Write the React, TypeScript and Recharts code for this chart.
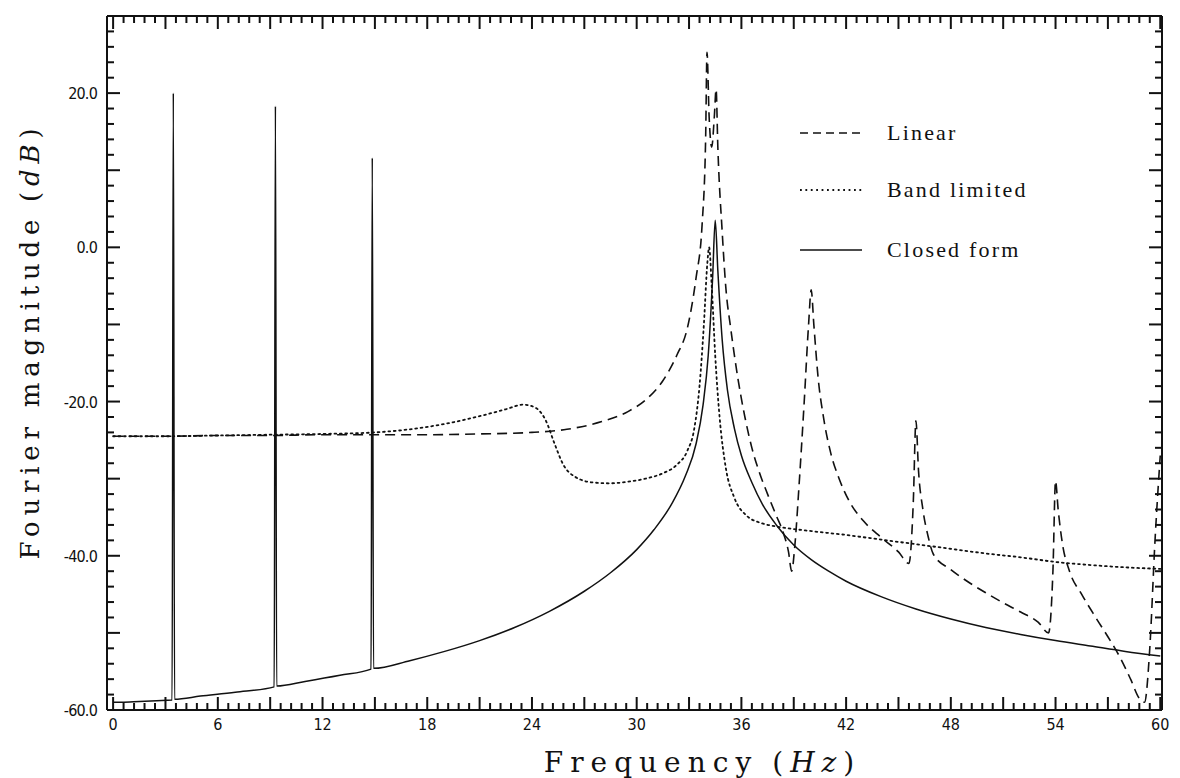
import React from 'react';
import { LineChart, Line, XAxis, YAxis, Label, ReferenceLine } from 'recharts';

// ---------- data ----------
const closedFreq = [0, 0.5, 1.5, 2.5, 3.38, 3.45, 3.52, 5, 7, 9.23, 9.3, 9.37, 11, 13, 14.78, 14.85, 14.92, 17, 19, 21, 23, 25, 27, 28.5, 30, 31, 32, 32.8, 33.4, 33.8, 34.1, 34.35, 34.5, 34.65, 34.9, 35.2, 35.6, 36, 36.6, 37.2, 38, 39, 40, 41, 42, 44, 46, 48, 50, 52, 54, 56, 58, 60];
const closedDb = [-59.0, -59.0, -58.9, -58.8, -58.7, 20.0, -58.6, -58.2, -57.7, -57.0, 18.3, -56.9, -56.3, -55.5, -54.7, 11.6, -54.6, -53.6, -52.4, -51.0, -49.3, -47.2, -44.6, -42.2, -39.2, -36.6, -33.3, -29.6, -25.5, -20.5, -14.0, -4.0, 3.5, -3.0, -12.0, -18.5, -23.5, -27.0, -30.5, -33.3, -36.0, -38.6, -40.5, -42.0, -43.3, -45.3, -46.9, -48.2, -49.3, -50.2, -51.0, -51.7, -52.4, -53.0];

const linearFreq = [0, 3, 6, 9, 12, 15, 18, 21, 24, 26, 28, 29.5, 30.5, 31.5, 32.3, 32.9, 33.4, 33.75, 33.95, 34.03, 34.15, 34.3, 34.45, 34.55, 34.65, 34.9, 35.1, 35.4, 35.8, 36.2, 36.6, 37, 37.5, 38, 38.4, 38.7, 38.88, 39.05, 39.3, 39.6, 39.85, 40.0, 40.15, 40.4, 40.7, 41.1, 41.6, 42.2, 43, 44, 45, 45.6, 45.85, 46.0, 46.15, 46.4, 46.7, 47, 48, 49, 50, 51, 52, 53, 53.6, 53.85, 54.0, 54.15, 54.4, 54.8, 55.5, 56.3, 57, 57.7, 58.3, 58.8, 59.1, 59.4, 59.7, 60];
const linearDb = [-24.5, -24.5, -24.4, -24.4, -24.3, -24.3, -24.3, -24.2, -24.0, -23.6, -22.6, -21.3, -19.8, -17.3, -14.0, -10.5, -4.0, 3.0, 14.0, 25.3, 17.0, 13.0, 17.0, 20.5, 13.0, 2.0, -5.0, -10.7, -17.0, -22.0, -26.0, -29.0, -32.0, -34.8, -37.0, -39.5, -42.0, -39.0, -31.0, -20.0, -10.0, -5.5, -10.0, -17.0, -22.0, -26.5, -30.0, -33.0, -35.5, -37.6, -39.5, -41.0, -33.0, -22.5, -29.0, -34.0, -37.5, -39.8, -41.8, -43.4, -44.8, -46.1, -47.3, -48.6, -50.0, -42.0, -30.3, -34.0, -38.5, -42.0, -45.0, -48.0, -50.5, -53.2, -56.0, -58.5, -59.0, -52.0, -38.0, -27.0];

const bandFreq = [0, 3, 6, 9, 12, 15, 17, 19, 21, 22.5, 23.5, 24.2, 24.8, 25.3, 25.8, 26.5, 27.5, 28.5, 29.5, 30.5, 31.5, 32.3, 32.9, 33.3, 33.6, 33.85, 34.05, 34.15, 34.3, 34.5, 34.75, 35.1, 35.6, 36.3, 37.2, 38, 40, 42, 44, 46, 48, 50, 52, 54, 56, 58, 60];
const bandDb = [-24.5, -24.5, -24.4, -24.3, -24.2, -24.0, -23.6, -22.9, -21.9, -21.0, -20.4, -20.8, -22.5, -25.5, -28.2, -29.8, -30.5, -30.6, -30.4, -30.0, -29.3, -28.2, -26.4, -23.5, -18.0, -10.0, -2.0, 0.0, -5.0, -14.0, -22.0, -28.5, -32.5, -34.8, -35.8, -36.2, -36.8, -37.3, -37.9, -38.5, -39.1, -39.7, -40.2, -40.8, -41.2, -41.5, -41.7];

const seriesNames = ['Linear', 'Band limited', 'Closed form'];
const xTickLabels = [0, 6, 12, 18, 24, 30, 36, 42, 48, 54, 60];
const yTickLabels = [20, 0, -20, -40, -60];
const xTitle = 'Frequency';
const xUnit = 'Hz';
const yTitle = 'Fourier magnitude';
const yUnit = 'dB';

// ---------- helpers ----------
const rows = (f: number[], d: number[]) => f.map((x, i) => ({ f: x, db: d[i] }));
const closedRows = rows(closedFreq, closedDb);
const linearRows = rows(linearFreq, linearDb);
const bandRows = rows(bandFreq, bandDb);

const INK = '#111';
const X_DOMAIN: [number, number] = [-0.35, 60.1];
const Y_DOMAIN: [number, number] = [-60, 30];
const tickFont = "'DejaVu Sans Condensed', 'Liberation Sans Narrow', 'Liberation Sans', sans-serif";
const titleFont = "'DejaVu Serif', serif";

// minor tick grid (every 0.6 Hz / 2 dB), majors every 3 Hz / 10 dB
const xMinor: number[] = [];
for (let i = 0; i <= 100; i++) xMinor.push(Math.round(i * 6) / 10);
const yMinor: number[] = [];
for (let v = -60; v <= 30; v += 2) yMinor.push(v);

// tick lengths expressed in data units of the plot (13 px major, 7 px minor)
const PX_PER_DB = 694 / 90;
const PX_PER_HZ = 1055 / 60.45;
const xMarks = xMinor.map((v, i) => ({ v, len: (i % 5 === 0 ? 13 : 7) / PX_PER_DB }));
const yMarks = yMinor.map((v) => ({ v, len: (v % 10 === 0 ? 13 : 7) / PX_PER_HZ }));

const BottomLabel = (p: any) => (
  <text x={Number(p.x)} y={Number(p.y) + 20} textAnchor="middle" fontFamily={tickFont} fontSize={16} fill={INK}>
    {p.payload.value}
  </text>
);
const LeftLabel = (p: any) => (
  <text x={Number(p.x) - 10} y={Number(p.y) + 6} textAnchor="end" fontFamily={tickFont} fontSize={16} fill={INK} letterSpacing={-0.8}>
    {Number(p.payload.value).toFixed(1)}
  </text>
);

const XTitle = (p: any) => {
  const vb = p.viewBox || { x: 0, y: 0, width: 0, height: 0 };
  const cx = vb.x + vb.width / 2 + 68;
  return (
    <text x={cx} y={vb.y + 62} textAnchor="middle" fontFamily={titleFont} fontSize={28} fill={INK} letterSpacing={7}>
      {xTitle}
      <tspan dx={14}>(</tspan>
      <tspan fontStyle="italic">{xUnit}</tspan>
      <tspan>)</tspan>
    </text>
  );
};
const YTitle = () => {
  const cx = 22;
  const cy = 333;
  return (
    <text x={cx} y={cy} transform={`rotate(-90 ${cx} ${cy})`} textAnchor="middle" dominantBaseline="central" fontFamily={titleFont} fontSize={26} fill={INK} letterSpacing={5.8}>
      {yTitle}
      <tspan dx={12}>(</tspan>
      <tspan fontStyle="italic">{yUnit}</tspan>
      <tspan>)</tspan>
    </text>
  );
};

const styles = [
  { dash: '10 6', width: 1.6 },
  { dash: '1.8 3.6', width: 1.8 },
  { dash: undefined as string | undefined, width: 1.5 },
];

const LegendBox = () => (
  <div style={{ position: 'absolute', left: 790, top: 111, width: 320 }}>
    {seriesNames.map((name, i) => (
      <div key={name} style={{ height: i === 1 ? 60 : 57, display: 'flex', alignItems: 'flex-start' }}>
        <svg width={66} height={28} style={{ display: 'block' }}>
          <line x1={2} y1={14} x2={64} y2={14} stroke={INK} strokeWidth={styles[i].width} strokeDasharray={i === 0 ? '8 5' : styles[i].dash} />
        </svg>
        <span style={{ marginLeft: 23, fontFamily: "'Liberation Serif', serif", fontSize: 22, letterSpacing: 2.2, lineHeight: '28px', color: INK }}>
          {name}
        </span>
      </div>
    ))}
  </div>
);

export default function App() {
  const [xLo, xHi] = X_DOMAIN;
  const [yLo, yHi] = Y_DOMAIN;
  const tickProps = { xAxisId: 'b', yAxisId: 'l', stroke: INK, strokeWidth: 2, ifOverflow: 'visible' as const };
  const frame = { stroke: INK, strokeWidth: 2 };
  return (
    <div style={{ position: 'relative', width: 1172, height: 770, background: '#fff' }}>
      <LineChart width={1172} height={770} margin={{ top: 0, right: 0, bottom: 0, left: 0 }}>
        <XAxis xAxisId="b" dataKey="f" type="number" domain={X_DOMAIN} allowDataOverflow ticks={xTickLabels} interval={0}
          tickSize={0} tickMargin={0} tickLine={false} tick={<BottomLabel />} height={68} stroke={INK} axisLine={frame}>
          <Label content={<XTitle />} />
        </XAxis>
        <XAxis xAxisId="t" orientation="top" dataKey="f" type="number" domain={X_DOMAIN} allowDataOverflow ticks={xTickLabels} interval={0}
          tick={false} tickLine={false} height={8} stroke={INK} axisLine={frame} />
        <YAxis yAxisId="l" type="number" domain={Y_DOMAIN} allowDataOverflow ticks={yTickLabels} interval={0}
          tickSize={0} tickMargin={0} tickLine={false} tick={<LeftLabel />} width={99} stroke={INK} axisLine={frame}>
          <Label content={<YTitle />} />
        </YAxis>
        <YAxis yAxisId="r" orientation="right" type="number" domain={Y_DOMAIN} allowDataOverflow ticks={yTickLabels} interval={0}
          tick={false} tickLine={false} width={18} stroke={INK} axisLine={frame} />

        {/* inward tick marks on all four sides of the frame */}
        {xMarks.map((m) => (
          <ReferenceLine key={`bt${m.v}`} {...tickProps} segment={[{ x: m.v, y: yLo }, { x: m.v, y: yLo + m.len }]} />
        ))}
        {xMarks.map((m) => (
          <ReferenceLine key={`tt${m.v}`} {...tickProps} segment={[{ x: m.v, y: yHi }, { x: m.v, y: yHi - m.len }]} />
        ))}
        {yMarks.map((m) => (
          <ReferenceLine key={`lt${m.v}`} {...tickProps} segment={[{ x: xLo, y: m.v }, { x: xLo + m.len, y: m.v }]} />
        ))}
        {yMarks.map((m) => (
          <ReferenceLine key={`rt${m.v}`} {...tickProps} segment={[{ x: xHi, y: m.v }, { x: xHi - m.len, y: m.v }]} />
        ))}

        <Line data={bandRows} xAxisId="b" yAxisId="l" dataKey="db" name={seriesNames[1]} type="monotone" stroke={INK} strokeWidth={styles[1].width} strokeDasharray={styles[1].dash} strokeLinecap="round" dot={false} activeDot={false} isAnimationActive={false} />
        <Line data={linearRows} xAxisId="b" yAxisId="l" dataKey="db" name={seriesNames[0]} type="monotone" stroke={INK} strokeWidth={styles[0].width} strokeDasharray={styles[0].dash} dot={false} activeDot={false} isAnimationActive={false} />
        <Line data={closedRows} xAxisId="b" yAxisId="l" dataKey="db" name={seriesNames[2]} type="monotone" stroke={INK} strokeWidth={styles[2].width} dot={false} activeDot={false} isAnimationActive={false} />
      </LineChart>
      <LegendBox />
    </div>
  );
}
